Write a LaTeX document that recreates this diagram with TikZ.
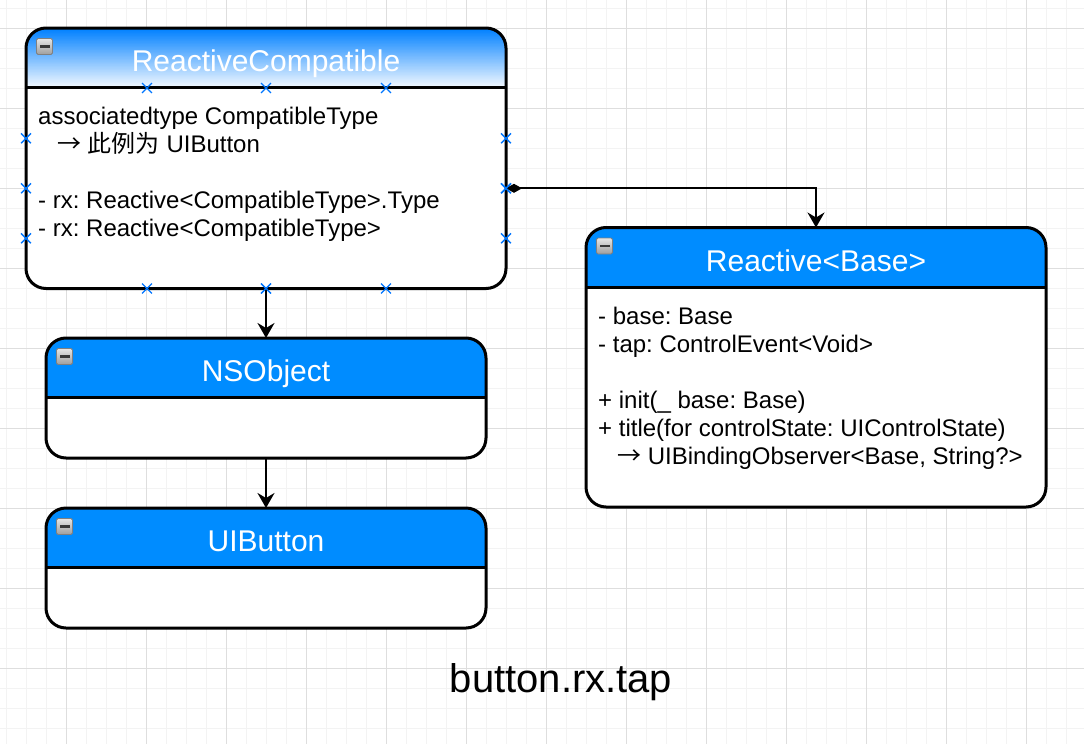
\documentclass[tikz,border=0pt]{standalone}
\usepackage{fontspec}
\setmainfont{Liberation Sans}
\newfontfamily\cjk{Noto Sans CJK SC}
\frenchspacing
\usetikzlibrary{arrows.meta,shapes.misc}
\definecolor{hdrblue}{RGB}{0,140,255}
\definecolor{gradtop}{RGB}{0,128,255}
\definecolor{gradbot}{RGB}{244,249,255}
\definecolor{mkblue}{RGB}{0,118,255}
\definecolor{gminor}{RGB}{243,243,243}
\definecolor{gmajor}{RGB}{222,222,222}
\newcommand{\rarr}{{\cjk →}}
\begin{document}
\begin{tikzpicture}[x=1pt,y=-1pt,
  gridminor/.style={draw=gminor, line width=1pt},
  gridmajor/.style={draw=gmajor, line width=1pt},
  umlbox/.style={draw=black, line width=3pt, fill=white, rounded corners=20pt, inner sep=0pt, outer sep=0pt},
  solidhdr/.style={path picture={\fill[hdrblue, sharp corners] (path picture bounding box.north west) rectangle ([yshift=-59.5pt]path picture bounding box.north east);}},
  gradhdr/.style={path picture={
    \foreach \k in {0,...,59}{
      \pgfmathtruncatemacro\p{100*\k/59}
      \fill[gradbot!\p!gradtop, sharp corners] ([yshift={-\k*1pt}]path picture bounding box.north west) rectangle ([yshift={-(\k+1.3)*1pt}]path picture bounding box.north east);
    }}},
  divider/.style={draw=black, line width=3pt},
  ttl/.style={font=\fontsize{30}{36}\selectfont, text=white, anchor=base, inner sep=0pt},
  txt/.style={font=\fontsize{24}{28}\selectfont, anchor=base west, inner sep=0pt},
  caption/.style={font=\fontsize{40}{46}\selectfont, anchor=base, inner sep=0pt},
  icon/.style={draw=black!50, line width=0.8pt, minimum size=16pt, inner sep=0pt, rounded corners=1.5pt,
    top color=black!10, bottom color=black!38,
    path picture={\fill[black!78, sharp corners] ([xshift=3pt,yshift=-1.4pt]path picture bounding box.west) rectangle ([xshift=-3pt,yshift=1.4pt]path picture bounding box.east);}},
  mk/.style={cross out, draw=mkblue, line width=1.4pt, minimum size=8.5pt, inner sep=0pt},
  conn/.style={draw=black, line width=2pt},
  tipend/.tip={Stealth[length=15pt,width=17pt,inset=5pt]},
  tipstart/.tip={Diamond[length=16pt,width=9pt]}
]
\useasboundingbox (0,0) rectangle (1084,744);
\fill[white] (0,0) rectangle (1084,744);
% grid
\foreach \i in {0,...,53} \draw[gridminor] ({6.7+20*\i},0) -- ({6.7+20*\i},744);
\foreach \j in {0,...,36} \draw[gridminor] (0,{8.3+20*\j}) -- (1084,{8.3+20*\j});
\foreach \i in {0,...,12} \draw[gridmajor] ({66.7+80*\i},0) -- ({66.7+80*\i},744);
\foreach \j in {0,...,8} \draw[gridmajor] (0,{28.3+80*\j}) -- (1084,{28.3+80*\j});

% boxes
\node[umlbox, gradhdr, minimum width=480pt, minimum height=260.5pt] (b1) at (266,158.25) {};
\node[umlbox, solidhdr, minimum width=460pt, minimum height=279.5pt] (b2) at (816,367.25) {};
\node[umlbox, solidhdr, minimum width=440pt, minimum height=120pt] (b3) at (266,398) {};
\node[umlbox, solidhdr, minimum width=440pt, minimum height=120pt] (b4) at (266,568) {};
\foreach \b in {b1,b2,b3,b4}
  \draw[divider] ([yshift=-59.5pt]\b.north west) -- ([yshift=-59.5pt]\b.north east);

% icons
\node[icon] (ic1) at (44.5,46.5) {};
\node[icon] (ic2) at (604.5,246) {};
\node[icon] (ic3) at (64.5,356.5) {};
\node[icon] (ic4) at (64.5,526.5) {};

% titles
\node[ttl] (t1) at (266,71.5) {ReactiveCompatible};
\node[ttl] (t2) at (816,271) {Reactive<Base>};
\node[ttl] (t3) at (266,381.5) {NSObject};
\node[ttl] (t4) at (266,551.5) {UIButton};

% body texts
\node[txt] (l11) at (38,124) {associatedtype CompatibleType};
\node[txt] (l12) at (57,152) {\rarr\ {\cjk 此例为} UIButton};
\node[txt] (l13) at (38,208) {- rx: Reactive<CompatibleType>.Type};
\node[txt] (l14) at (38,236) {- rx: Reactive<CompatibleType>};

\node[txt] (l21) at (598,324) {- base: Base};
\node[txt] (l22) at (598,352) {- tap: ControlEvent<Void>};
\node[txt] (l23) at (598,408) {+ init(\_ base: Base)};
\node[txt] (l24) at (598,436) {+ title(for controlState: UIControlState)};
\node[txt] (l25) at (617,464) {\rarr\ UIBindingObserver<Base, String?>};

\node[caption] (cap) at (561,692) {button.rx.tap};

% markers
\foreach \x/\n in {147/1,266/2,386/3} {
  \node[mk] (mt\n) at (\x,88) {};
  \node[mk] (mb\n) at (\x,288.5) {};
}
\foreach \y/\n in {138.3/1,188.3/2,238.3/3} {
  \node[mk] (ml\n) at (26,\y) {};
  \node[mk] (mr\n) at (506,\y) {};
}

% connectors
\draw[conn, -tipend] (b1.south) -- (b3.north);
\draw[conn, -tipend] (b3.south) -- (b4.north);
\draw[conn, tipstart-tipend] (mr2.center) -| (b2.north);

% redraw markers on top
\node[mk] (mbb2) at (266,288.5) {};
\node[mk] (mrr2) at (506,188.3) {};
\end{tikzpicture}
\end{document}
